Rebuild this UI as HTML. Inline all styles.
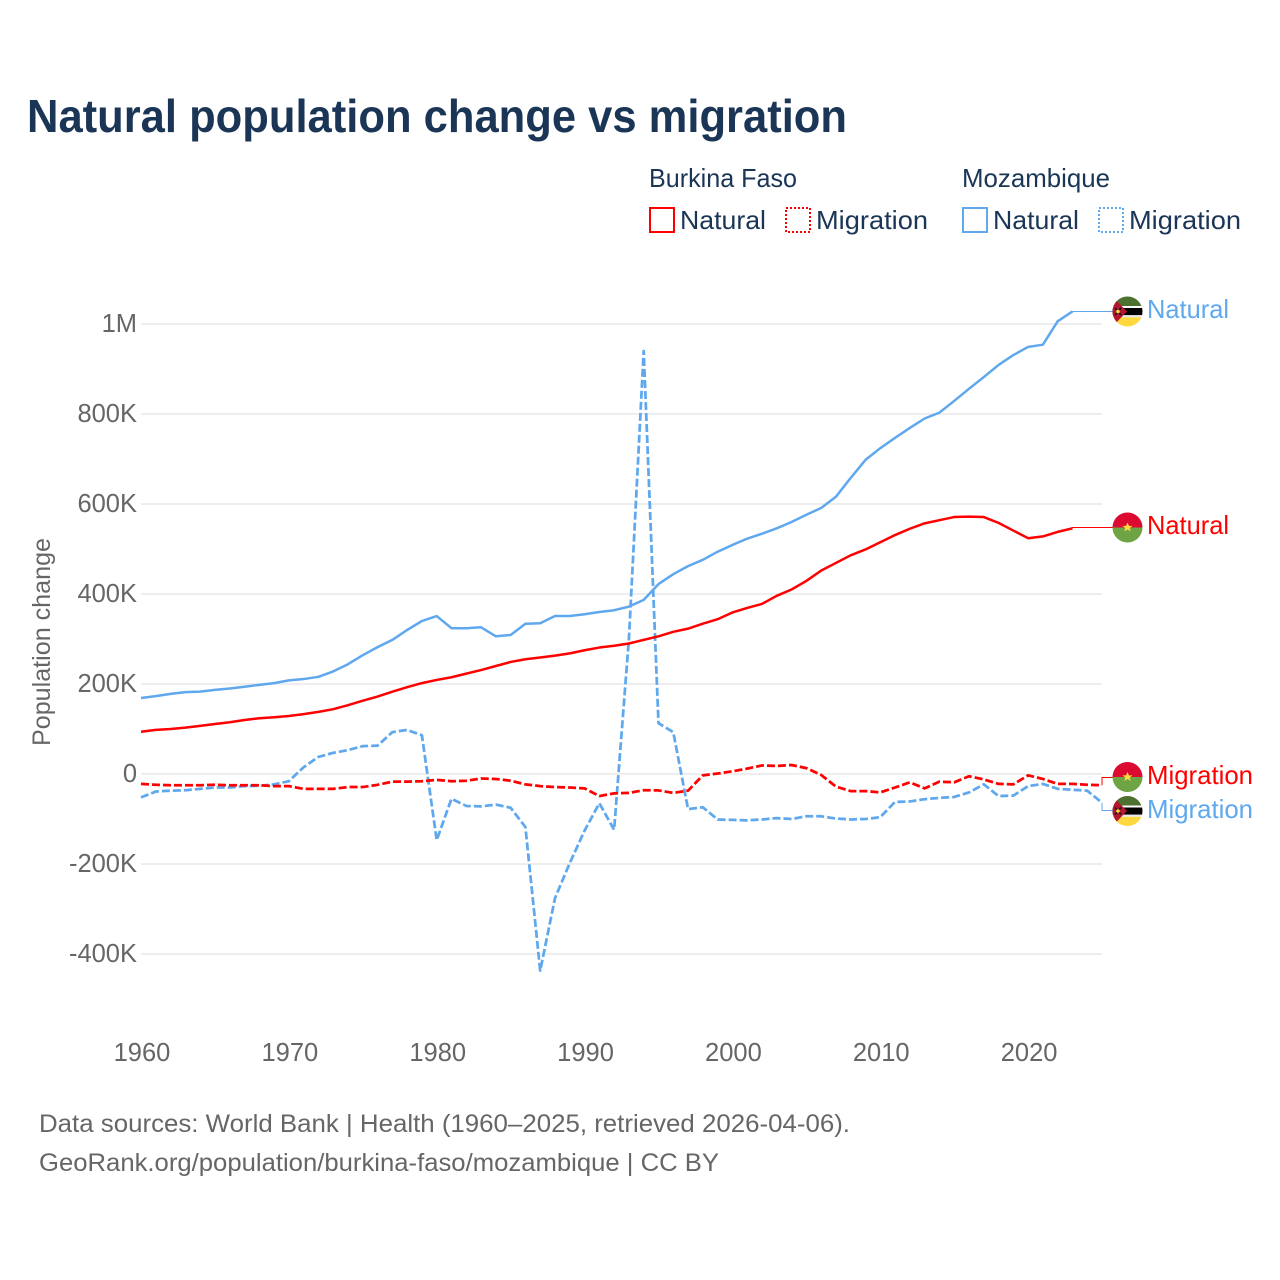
<!DOCTYPE html>
<html lang="en">
<head>
<meta charset="utf-8">
<title>Natural population change vs migration</title>
<style>
html,body{margin:0;padding:0;background:#fff;width:1280px;height:1280px;overflow:hidden}
svg{display:block}
text{font-family:"Liberation Sans",sans-serif}
</style>
</head>
<body>
<svg id="chart" xmlns="http://www.w3.org/2000/svg" width="1280" height="1280" viewBox="0 0 1280 1280">
  <defs>
    <clipPath id="flag-clip"><circle cx="0" cy="0" r="15"/></clipPath>
    <g id="flag-bf">
      <g clip-path="url(#flag-clip)">
        <rect x="-15" y="-15" width="30" height="15" fill="#dc0a30"/>
        <rect x="-15" y="0" width="30" height="15" fill="#6ea444"/>
        <polygon points="0,-5 1.5,-1.6 5,-1.6 2.2,0.6 3.2,4 0,2 -3.2,4 -2.2,0.6 -5,-1.6 -1.5,-1.6" fill="#ffd83f"/>
      </g>
    </g>
    <g id="flag-mz">
      <g clip-path="url(#flag-clip)">
        <rect x="-15" y="-15" width="30" height="9.5" fill="#4d7230"/>
        <rect x="-15" y="-5.5" width="30" height="2" fill="#fff"/>
        <rect x="-15" y="-3.5" width="30" height="7.2" fill="#000"/>
        <rect x="-15" y="3.7" width="30" height="2.1" fill="#e8e8e8"/>
        <rect x="-15" y="5.8" width="30" height="9.2" fill="#ffd83f"/>
        <polygon points="-15,-15 -0.5,0 -15,15" fill="#b3172f"/>
        <path d="M-12.5,-3.5 L-6.5,3.5 M-6.5,-3.5 L-12.5,3.5" stroke="#111" stroke-width="1.5"/>
        <circle cx="-9.5" cy="0" r="1.8" fill="#ffd83f"/>
      </g>
    </g>
  </defs>

  <text x="27" y="132" font-size="46" font-weight="700" fill="#1a3555" textLength="820" lengthAdjust="spacingAndGlyphs">Natural population change vs migration</text>

  <g fill="#1a3555" font-size="26">
    <text x="649" y="187" textLength="148" lengthAdjust="spacingAndGlyphs">Burkina Faso</text>
    <text x="962" y="187" textLength="148" lengthAdjust="spacingAndGlyphs">Mozambique</text>
    <rect x="650" y="208" width="24" height="24" fill="none" stroke="#ff0000" stroke-width="2"/>
    <text x="680" y="229" textLength="86" lengthAdjust="spacingAndGlyphs">Natural</text>
    <rect x="786" y="208" width="24" height="24" fill="none" stroke="#ff0000" stroke-width="2" stroke-dasharray="2 2"/>
    <text x="816" y="229" textLength="112" lengthAdjust="spacingAndGlyphs">Migration</text>
    <rect x="963" y="208" width="24" height="24" fill="none" stroke="#5fa8ee" stroke-width="2"/>
    <text x="993" y="229" textLength="86" lengthAdjust="spacingAndGlyphs">Natural</text>
    <rect x="1099" y="208" width="24" height="24" fill="none" stroke="#5fa8ee" stroke-width="2" stroke-dasharray="2 2"/>
    <text x="1129" y="229" textLength="112" lengthAdjust="spacingAndGlyphs">Migration</text>
  </g>

  <g id="grid"></g>
  <g id="y-ticks"></g>
  <g id="x-ticks"></g>
  <text transform="translate(50,746) rotate(-90)" font-size="25" fill="#666" textLength="208" lengthAdjust="spacingAndGlyphs">Population change</text>
  <g id="series"></g>

  <g font-size="26">
    <use href="#flag-mz" x="1127.5" y="311.5"/>
    <text x="1147" y="318" fill="#5fa8ee" textLength="82" lengthAdjust="spacingAndGlyphs">Natural</text>
    <use href="#flag-bf" x="1127.5" y="527.5"/>
    <text x="1147" y="534" fill="#ff0000" textLength="82" lengthAdjust="spacingAndGlyphs">Natural</text>
    <use href="#flag-bf" x="1127.5" y="777"/>
    <text x="1147" y="784" fill="#ff0000" textLength="106" lengthAdjust="spacingAndGlyphs">Migration</text>
    <use href="#flag-mz" x="1127.5" y="811"/>
    <text x="1147" y="818" fill="#5fa8ee" textLength="106" lengthAdjust="spacingAndGlyphs">Migration</text>
  </g>

  <g font-size="25" fill="#666">
    <text x="39" y="1132" textLength="811" lengthAdjust="spacingAndGlyphs">Data sources: World Bank | Health (1960–2025, retrieved 2026-04-06).</text>
    <text x="39" y="1171" textLength="680" lengthAdjust="spacingAndGlyphs">GeoRank.org/population/burkina-faso/mozambique | CC BY</text>
  </g>
</svg>
<script>
// Chart data, thousands of people per year, starting at 1960
const startYear = 1960;
const xTickYears = [1960, 1970, 1980, 1990, 2000, 2010, 2020];
const yTickValues = [1000, 800, 600, 400, 200, 0, -200, -400];
const yTickLabels = ["1M", "800K", "600K", "400K", "200K", "0", "-200K", "-400K"];
const mozambiqueNatural = [169,173,178,182,183,187,190,194,198,202,208,211,216,228,244,264,282,298,320,340,351,324,324,326,306,309,334,335,351,351,355,360,364,372,387,422,444,462,476,494,509,523,534,546,560,576,591,616,658,698,724,747,769,790,803,829,856,882,909,931,949,954,1006,1028];
const burkinaNatural = [94,98,100,103,107,111,115,120,124,126,129,133,138,144,153,163,172,183,193,202,209,215,223,231,240,249,255,259,263,268,275,281,285,290,298,306,316,323,334,344,359,369,378,396,410,429,452,469,486,499,515,531,545,557,564,571,572,571,558,541,524,528,538,546];
const mozambiqueMigration = [-52,-39,-37,-36,-33,-30,-30,-27,-26,-23,-16,15,38,47,53,62,63,93,98,86,-147,-55,-71,-72,-68,-75,-118,-437,-276,-198,-126,-65,-124,300,940,113,93,-78,-74,-101,-102,-103,-101,-98,-100,-94,-94,-99,-101,-100,-96,-62,-61,-56,-53,-51,-41,-23,-49,-48,-27,-22,-33,-35,-37,-64];
const burkinaMigration = [-22,-24,-25,-25,-25,-24,-25,-25,-25,-27,-27,-33,-33,-33,-29,-29,-24,-17,-17,-16,-13,-16,-15,-10,-11,-15,-23,-27,-29,-30,-32,-49,-43,-42,-36,-36.5,-42,-37,-3,1,6,12,19,18,20,13,-2,-28,-38,-38,-41,-30,-18.5,-32,-17,-18.5,-5,-12,-22,-23,-3,-11,-22,-22,-24,-25];

// Axis functions
function xScale(year) { return 141 + (year - 1960) * 14.785; }
function yScale(value) { return 774 - value * 0.45; }

const NS = "http://www.w3.org/2000/svg";
const BLUE = "#5fa8ee";
const RED = "#ff0000";

const grid = document.getElementById("grid");
const yTicks = document.getElementById("y-ticks");
const xTicks = document.getElementById("x-ticks");
const seriesGroup = document.getElementById("series");

yTickValues.forEach(function (v, i) {
  const line = document.createElementNS(NS, "line");
  
  
  line.setAttribute("x1", xScale(1960));
  line.setAttribute("x2", xScale(2025));
  line.setAttribute("y1", yScale(v));
  line.setAttribute("y2", yScale(v));
  line.setAttribute("stroke", "#eeeeee");
  line.setAttribute("stroke-width", "2");
  grid.appendChild(line);

  const label = document.createElementNS(NS, "text");
  
  
  label.setAttribute("x", 137);
  label.setAttribute("y", yScale(v) + 8);
  label.setAttribute("text-anchor", "end");
  label.setAttribute("font-size", "25.5");
  label.setAttribute("fill", "#666");
  label.textContent = yTickLabels[i];
  yTicks.appendChild(label);
});

xTickYears.forEach(function (yr) {
  const label = document.createElementNS(NS, "text");
  
  
  label.setAttribute("x", xScale(yr) + 1);
  label.setAttribute("y", 1061);
  label.setAttribute("text-anchor", "middle");
  label.setAttribute("font-size", "25.5");
  label.setAttribute("fill", "#666");
  label.textContent = String(yr);
  xTicks.appendChild(label);
});

function pointsFor(values) {
  return values.map(function (v, i) {
    return xScale(startYear + i).toFixed(2) + "," + yScale(v).toFixed(2);
  }).join(" ");
}

function drawSeries(values, color, dashed, seriesName) {
  const poly = document.createElementNS(NS, "polyline");
  
  
  poly.setAttribute("points", pointsFor(values));
  poly.setAttribute("fill", "none");
  poly.setAttribute("stroke", color);
  poly.setAttribute("stroke-width", dashed ? "2.75" : "2.5");
  poly.setAttribute("stroke-linejoin", "round");
  if (dashed) poly.setAttribute("stroke-dasharray", "8 3");
  seriesGroup.appendChild(poly);
}

function drawLeader(values, color, labelY, seriesName) {
  const lastIdx = values.length - 1;
  const px = xScale(startYear + lastIdx);
  const py = yScale(values[lastIdx]);
  const path = document.createElementNS(NS, "path");
  
  
  path.setAttribute("d", "M" + px + " " + py + " L" + px + " " + labelY + " L1113 " + labelY);
  path.setAttribute("fill", "none");
  path.setAttribute("stroke", color);
  path.setAttribute("stroke-width", "1");
  seriesGroup.appendChild(path);
}

drawLeader(mozambiqueMigration, BLUE, 810.5, "leader-mozambique-migration");
drawLeader(burkinaMigration, RED, 777.5, "leader-burkina-migration");
drawLeader(mozambiqueNatural, BLUE, 311.5, "leader-mozambique-natural");
drawLeader(burkinaNatural, RED, 527.5, "leader-burkina-natural");
drawSeries(mozambiqueMigration, BLUE, true, "line-mozambique-migration");
drawSeries(burkinaMigration, RED, true, "line-burkina-migration");
drawSeries(mozambiqueNatural, BLUE, false, "line-mozambique-natural");
drawSeries(burkinaNatural, RED, false, "line-burkina-natural");
</script>
</body>
</html>
